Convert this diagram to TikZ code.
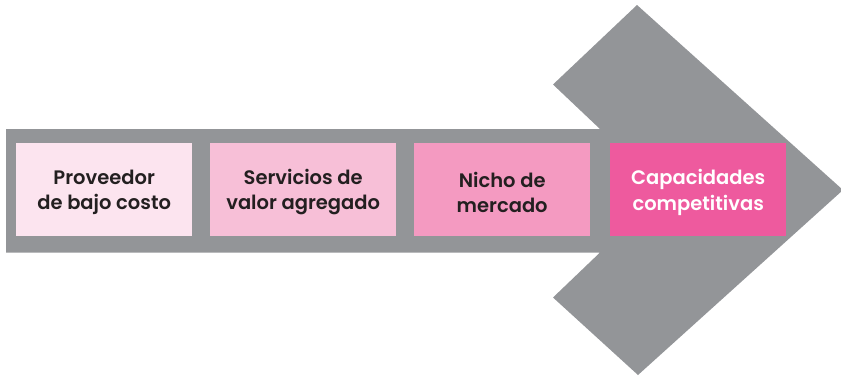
\documentclass[tikz,border=0pt]{standalone}
\usepackage{fontspec}
\setmainfont{Poppins}[BoldFont={Poppins SemiBold}]
\definecolor{arrowgray}{HTML}{939598}
\definecolor{pinkA}{HTML}{FCE4EF}
\definecolor{pinkB}{HTML}{F7BFD7}
\definecolor{pinkC}{HTML}{F49AC1}
\definecolor{pinkD}{HTML}{EE5A9E}
\definecolor{textdark}{HTML}{231F20}
\begin{document}
\begin{tikzpicture}[x=1pt,y=-1pt,
  stagebox/.style={draw=none,inner sep=0pt,anchor=north west,minimum height=93pt},
  stagetext/.style={inner sep=0pt,font=\fontsize{19.5}{25.5}\selectfont\bfseries,align=center,text=textdark,yshift=-2.5pt}]
\useasboundingbox (0,0) rectangle (841,376);
\fill[arrowgray] (6,129) -- (600,129) -- (553,84.5) -- (637,5) -- (843,190)
  -- (638,375) -- (553,297.5) -- (600,252.5) -- (6,252.5) -- cycle;
\node[stagebox,fill=pinkA,minimum width=176pt] (b1) at (16,143) {};
\node[stagebox,fill=pinkB,minimum width=186pt] (b2) at (210,143) {};
\node[stagebox,fill=pinkC,minimum width=176pt] (b3) at (414,143) {};
\node[stagebox,fill=pinkD,minimum width=176pt] (b4) at (610,143) {};
\node[stagetext] (t1) at (b1.center) {Proveedor\\de bajo costo};
\node[stagetext] (t2) at (b2.center) {Servicios de\\valor agregado};
\node[stagetext] (t3) at (b3.center) {Nicho de\\mercado};
\node[stagetext,text=white] (t4) at (b4.center) {Capacidades\\competitivas};
\end{tikzpicture}
\end{document}
